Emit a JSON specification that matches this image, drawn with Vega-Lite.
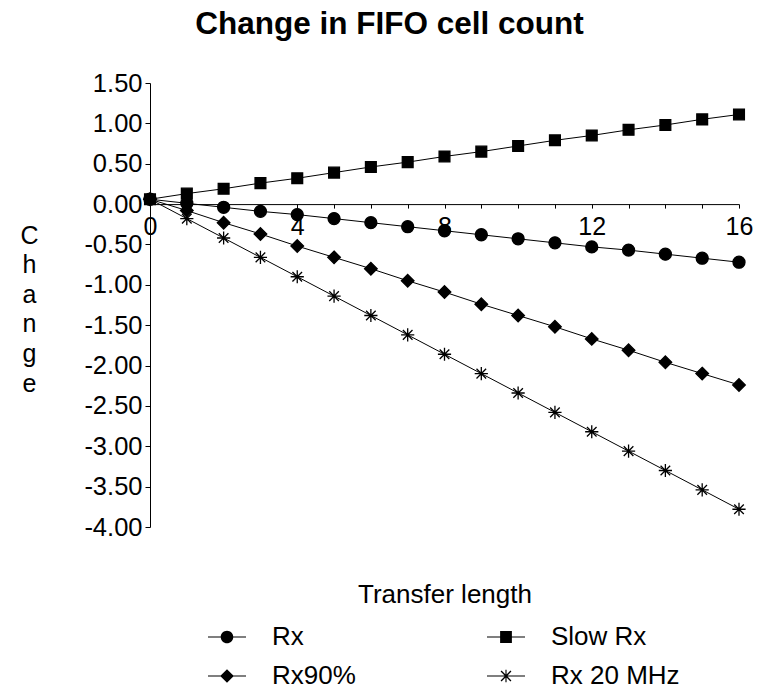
{
  "$schema": "https://vega.github.io/schema/vega-lite/v6.json",
  "width": 589,
  "height": 444,
  "autosize": "none",
  "padding": {"left": 150, "top": 83, "right": 19, "bottom": 166},
  "background": "white",
  "config": {
    "view": {"stroke": null},
    "font": "Liberation Sans",
    "axis": {"grid": false, "domainColor": "black", "tickColor": "black", "labelColor": "black", "titleColor": "black", "labelFont": "Liberation Sans", "titleFont": "Liberation Sans", "titleFontWeight": "normal"}
  },
  "title": {
    "text": "Change in FIFO cell count",
    "font": "Liberation Sans",
    "fontSize": 31.5,
    "fontWeight": "bold",
    "color": "black",
    "anchor": "middle",
    "frame": "group",
    "dx": -55,
    "offset": 31
  },
  "data": {
    "values": [
      {"x": 0, "series": "Rx", "change": 0.06},
      {"x": 1, "series": "Rx", "change": 0.01},
      {"x": 2, "series": "Rx", "change": -0.04},
      {"x": 3, "series": "Rx", "change": -0.09},
      {"x": 4, "series": "Rx", "change": -0.13},
      {"x": 5, "series": "Rx", "change": -0.18},
      {"x": 6, "series": "Rx", "change": -0.23},
      {"x": 7, "series": "Rx", "change": -0.28},
      {"x": 8, "series": "Rx", "change": -0.33},
      {"x": 9, "series": "Rx", "change": -0.38},
      {"x": 10, "series": "Rx", "change": -0.43},
      {"x": 11, "series": "Rx", "change": -0.48},
      {"x": 12, "series": "Rx", "change": -0.53},
      {"x": 13, "series": "Rx", "change": -0.57},
      {"x": 14, "series": "Rx", "change": -0.62},
      {"x": 15, "series": "Rx", "change": -0.67},
      {"x": 16, "series": "Rx", "change": -0.72},
      {"x": 0, "series": "Slow Rx", "change": 0.06},
      {"x": 1, "series": "Slow Rx", "change": 0.13},
      {"x": 2, "series": "Slow Rx", "change": 0.19},
      {"x": 3, "series": "Slow Rx", "change": 0.26},
      {"x": 4, "series": "Slow Rx", "change": 0.32},
      {"x": 5, "series": "Slow Rx", "change": 0.39},
      {"x": 6, "series": "Slow Rx", "change": 0.46},
      {"x": 7, "series": "Slow Rx", "change": 0.52},
      {"x": 8, "series": "Slow Rx", "change": 0.59},
      {"x": 9, "series": "Slow Rx", "change": 0.65},
      {"x": 10, "series": "Slow Rx", "change": 0.72},
      {"x": 11, "series": "Slow Rx", "change": 0.79},
      {"x": 12, "series": "Slow Rx", "change": 0.85},
      {"x": 13, "series": "Slow Rx", "change": 0.92},
      {"x": 14, "series": "Slow Rx", "change": 0.98},
      {"x": 15, "series": "Slow Rx", "change": 1.05},
      {"x": 16, "series": "Slow Rx", "change": 1.11},
      {"x": 0, "series": "Rx90%", "change": 0.06},
      {"x": 1, "series": "Rx90%", "change": -0.08},
      {"x": 2, "series": "Rx90%", "change": -0.23},
      {"x": 3, "series": "Rx90%", "change": -0.37},
      {"x": 4, "series": "Rx90%", "change": -0.52},
      {"x": 5, "series": "Rx90%", "change": -0.66},
      {"x": 6, "series": "Rx90%", "change": -0.8},
      {"x": 7, "series": "Rx90%", "change": -0.95},
      {"x": 8, "series": "Rx90%", "change": -1.09},
      {"x": 9, "series": "Rx90%", "change": -1.24},
      {"x": 10, "series": "Rx90%", "change": -1.38},
      {"x": 11, "series": "Rx90%", "change": -1.52},
      {"x": 12, "series": "Rx90%", "change": -1.67},
      {"x": 13, "series": "Rx90%", "change": -1.81},
      {"x": 14, "series": "Rx90%", "change": -1.96},
      {"x": 15, "series": "Rx90%", "change": -2.1},
      {"x": 16, "series": "Rx90%", "change": -2.24},
      {"x": 0, "series": "Rx 20 MHz", "change": 0.06},
      {"x": 1, "series": "Rx 20 MHz", "change": -0.18},
      {"x": 2, "series": "Rx 20 MHz", "change": -0.42},
      {"x": 3, "series": "Rx 20 MHz", "change": -0.66},
      {"x": 4, "series": "Rx 20 MHz", "change": -0.9},
      {"x": 5, "series": "Rx 20 MHz", "change": -1.14},
      {"x": 6, "series": "Rx 20 MHz", "change": -1.38},
      {"x": 7, "series": "Rx 20 MHz", "change": -1.62},
      {"x": 8, "series": "Rx 20 MHz", "change": -1.86},
      {"x": 9, "series": "Rx 20 MHz", "change": -2.1},
      {"x": 10, "series": "Rx 20 MHz", "change": -2.34},
      {"x": 11, "series": "Rx 20 MHz", "change": -2.58},
      {"x": 12, "series": "Rx 20 MHz", "change": -2.82},
      {"x": 13, "series": "Rx 20 MHz", "change": -3.06},
      {"x": 14, "series": "Rx 20 MHz", "change": -3.3},
      {"x": 15, "series": "Rx 20 MHz", "change": -3.54},
      {"x": 16, "series": "Rx 20 MHz", "change": -3.78}
    ]
  },
  "encoding": {
    "x": {
      "field": "x",
      "type": "quantitative",
      "scale": {"domain": [0, 16], "nice": false, "zero": false},
      "axis": {
        "orient": "bottom",
        "offset": -322.9,
        "values": [0, 1, 2, 3, 4, 5, 6, 7, 8, 9, 10, 11, 12, 13, 14, 15, 16],
        "format": "d",
        "labelExpr": "datum.value % 4 === 0 ? datum.label : ''",
        "labelFlush": false,
        "labelOverlap": false,
        "tickSize": 4,
        "labelFontSize": 25,
        "labelPadding": 6,
        "title": "Transfer length",
        "titleFontSize": 26,
        "titleX": 294.5,
        "titleY": 398,
        "titleAlign": "center",
        "titleBaseline": "alphabetic"
      }
    },
    "y": {
      "field": "change",
      "type": "quantitative",
      "scale": {"domain": [-4, 1.5], "nice": false, "zero": false},
      "axis": {
        "values": [-4, -3.5, -3, -2.5, -2, -1.5, -1, -0.5, 0, 0.5, 1, 1.5],
        "format": ".2f",
        "labelExpr": "replace(format(datum.value, '.2f'), '\u2212', '-')",
        "tickSize": 5,
        "labelPadding": 3,
        "labelFontSize": 25.5,
        "labelOverlap": false,
        "labelFlush": false,
        "title": ["C", "h", "a", "n", "g", "e"],
        "titleAngle": 0,
        "titleFontSize": 25,
        "titleX": -121,
        "titleY": 160,
        "titleAlign": "center",
        "titleBaseline": "alphabetic",
        "titleLineHeight": 29.6
      }
    }
  },
  "layer": [
    {
      "mark": {"type": "line", "color": "black", "strokeWidth": 1},
      "encoding": {"detail": {"field": "series", "type": "nominal"}}
    },
    {
      "mark": {"type": "point", "filled": true, "fill": "black", "stroke": "black", "strokeWidth": 1.3, "size": 144, "opacity": 1},
      "encoding": {
        "shape": {
          "field": "series",
          "type": "nominal",
          "scale": {
            "domain": ["Rx", "Rx90%", "Slow Rx", "Rx 20 MHz"],
            "range": [
              "M-1,0A1,1 0 1,1 1,0A1,1 0 1,1 -1,0Z",
              "M0,-1.05L1.05,0L0,1.05L-1.05,0Z",
              "M-0.9,-0.9H0.9V0.9H-0.9Z",
              "M0,-1.1V1.1M-1.1,0H1.1M-0.8,-0.8L0.8,0.8M-0.8,0.8L0.8,-0.8"
            ]
          },
          "legend": null
        }
      }
    },
    {
      "transform": [{"filter": "datum.x < 0"}],
      "mark": {"type": "point", "filled": true, "fill": "black", "stroke": "black", "strokeWidth": 1.3, "size": 1444, "opacity": 1},
      "encoding": {
        "shape": {
          "field": "series",
          "type": "nominal",
          "scale": {
            "domain": ["Rx", "Rx90%", "Slow Rx", "Rx 20 MHz"],
            "range": [
              "M-1,-0.03H1V0.03H-1ZM-0.33,0A0.33,0.33 0 1,1 0.33,0A0.33,0.33 0 1,1 -0.33,0Z",
              "M-1,-0.03H1V0.03H-1ZM0,-0.36L0.36,0L0,0.36L-0.36,0Z",
              "M-1,-0.03H1V0.03H-1ZM-0.31,-0.31H0.31V0.31H-0.31Z",
              "M-1,-0.03H1V0.03H-1ZM-0.03,-0.33H0.03V0.33H-0.03ZM-0.235,-0.285L0.285,0.235L0.235,0.285L-0.285,-0.235ZM-0.285,0.235L0.235,-0.285L0.285,-0.235L-0.235,0.285Z"
            ]
          },
          "legend": {
            "orient": "none",
            "legendX": 58,
            "legendY": 535,
            "padding": 0,
            "columns": 2,
            "title": null,
            "labelFont": "Liberation Sans",
            "labelFontSize": 26,
            "labelColor": "black",
            "labelOffset": 26,
            "symbolSize": 1444,
            "symbolStrokeWidth": 0,
            "symbolFillColor": "black",
            "symbolOpacity": 1,
            "columnPadding": 131,
            "rowPadding": 7
          }
        }
      }
    }
  ],
  "resolve": {"scale": {"shape": "independent"}}
}
